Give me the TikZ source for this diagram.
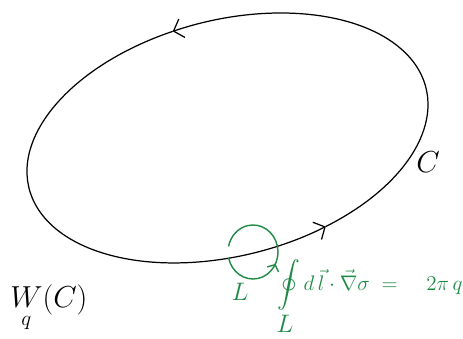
\documentclass[tikz,border=0pt]{standalone}
\usepackage{amsmath}
\usepackage{amssymb}
\usepackage{xcolor}
\definecolor{inkgreen}{HTML}{1e8a46}
\usepackage{tikz}
\usetikzlibrary{
  arrows.meta,
  positioning,
  calc,
  decorations.markings
}

\begin{document}
\begin{tikzpicture}[
  x=0.02cm, y=0.02cm,
  loopc/.style={line width=0.7pt, black},
  barb/.style={-{Straight Barb[length=5pt, width=11pt, line width=0.7pt]}},
  greenloop/.style={line width=0.8pt, inkgreen},
  lbl/.style={font=\fontsize{14}{17}\selectfont, inner sep=0pt},
  glbl/.style={lbl, text=inkgreen},
]
\useasboundingbox (0,0) rectangle (463,338);

\coordinate (ctr) at (227.5,200);

% contour C, two arcs so each ends in an arrow
\begin{scope}[rotate around={14.3:(ctr)}]
  \draw[loopc, barb] ($(ctr)+(-69:204.7 and 117.9)$)
    arc[start angle=-69, end angle=97.5, x radius=204.7, y radius=117.9];
  \draw[loopc, barb] ($(ctr)+(97.5:204.7 and 117.9)$)
    arc[start angle=97.5, end angle=291, x radius=204.7, y radius=117.9];
\end{scope}

\node[lbl, font=\fontsize{17}{20}\selectfont] (cname) at (428,176) {$C$};

% small loop L around the contour
\coordinate (lc) at (253,86);
\draw[greenloop, decoration={markings,
    mark=at position 0.42 with {\arrow{Straight Barb[length=3pt, width=7pt]}}},
    postaction={decorate}]
  ($(lc)+(192:25 and 27)$) arc[start angle=192, end angle=528, x radius=25, y radius=27];

\node[glbl] (lname) at (240,46) {$L$};
\node[glbl, font=\fontsize{13}{15}\selectfont, anchor=west] (gauss) at (277,53)
  {$\displaystyle\oint d\,\vec{l}\cdot\vec{\nabla}\sigma \;=\quad 2\pi\, q$};
\node[glbl] (lsub) at (285,14) {$L$};

\node[lbl, font=\fontsize{17}{20}\selectfont, anchor=north west] (wilson) at (10,54) {$\underset{q}{W}(C)$};

\end{tikzpicture}
\end{document}
